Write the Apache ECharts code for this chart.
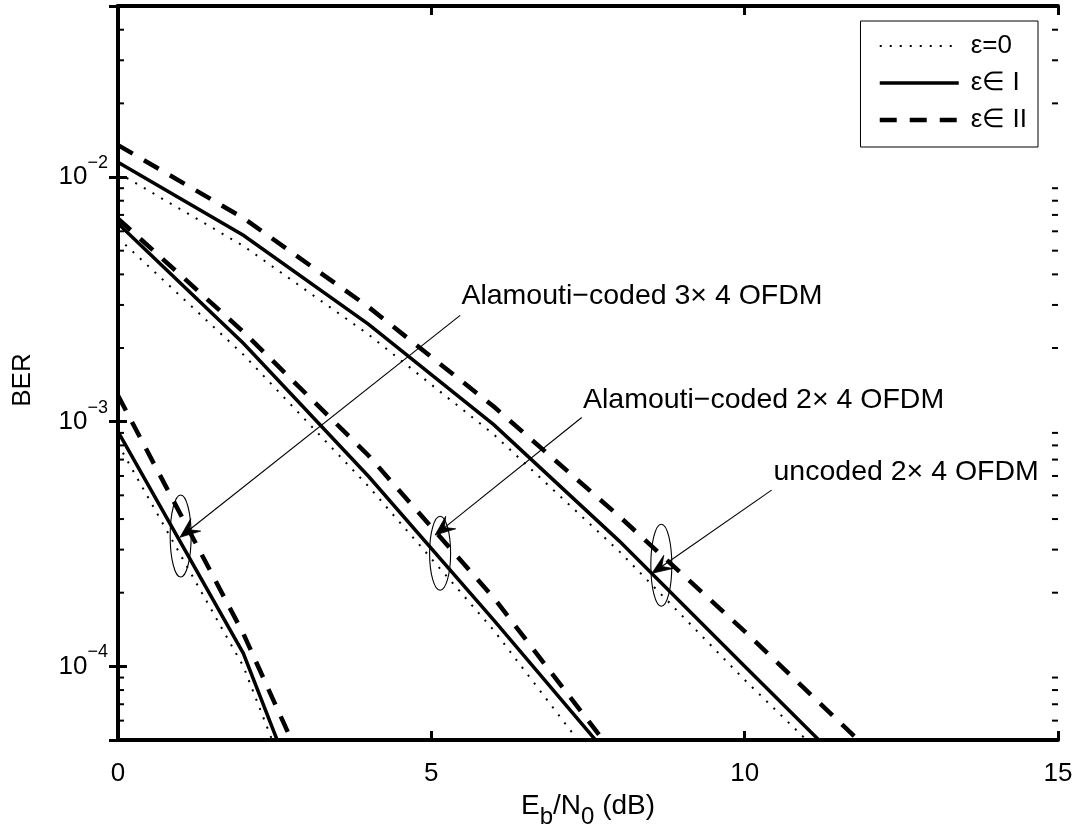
<!DOCTYPE html>
<html><head><meta charset="utf-8">
<script src="https://cdn.jsdelivr.net/npm/echarts@6/dist/echarts.min.js"></script>
<style>html,body{margin:0;padding:0;background:#fff}#c{width:1076px;height:835px}</style>
</head><body><div id="c"></div>
<script>
// ---------------- data ----------------
const xTickValues = [0, 5, 10, 15];
const yMinorTicks = [6e-5, 7e-5, 8e-5, 9e-5,
  2e-4, 3e-4, 4e-4, 5e-4, 6e-4, 7e-4, 8e-4, 9e-4,
  2e-3, 3e-3, 4e-3, 5e-3, 6e-3, 7e-3, 8e-3, 9e-3,
  2e-2, 3e-2, 4e-2];
const legendNames = ['ε=0', 'ε∈ I', 'ε∈ II'];

// uncoded 2x4 OFDM
const snrUncoded = [0, 2, 4, 6, 8, 10, 12];
const berUncodedEps0  = [1.04e-2, 5.23e-3, 2.27e-3, 8.85e-4, 2.95e-4, 8.8e-5, 2.8e-5];
const berUncodedEpsI  = [1.15e-2, 5.78e-3, 2.50e-3, 9.7e-4, 3.25e-4, 1.0e-4, 3.1e-5];
const berUncodedEpsII = [1.35e-2, 6.8e-3, 2.94e-3, 1.15e-3, 4.1e-4, 1.39e-4, 4.5e-5];

// Alamouti-coded 2x4 OFDM
const snrAla2 = [0, 2, 4, 6, 8];
const berAla2Eps0  = [5.64e-3, 1.88e-3, 5.43e-4, 1.40e-4, 3.0e-5];
const berAla2EpsI  = [6.45e-3, 2.09e-3, 5.97e-4, 1.54e-4, 3.84e-5];
const berAla2EpsII = [6.76e-3, 2.33e-3, 7.26e-4, 1.90e-4, 4.1e-5];

// Alamouti-coded 3x4 OFDM
const snrAla3 = [0, 2, 4];
const berAla3Eps0  = [8.1e-4, 1.0e-4, 4.9e-6];
const berAla3EpsI  = [9.1e-4, 1.13e-4, 5.5e-6];
const berAla3EpsII = [1.28e-3, 1.36e-4, 1.0e-5];

// annotations (data coordinates)
const annoTexts = ['Alamouti−coded 3× 4 OFDM', 'Alamouti−coded 2× 4 OFDM', 'uncoded 2× 4 OFDM'];
const annoTextPos   = [[5.48, 3.25e-3], [7.42, 1.22e-3], [10.46, 6.22e-4]];
const annoLineStart = [[5.46, 2.72e-3], [7.40, 1.04e-3], [10.43, 5.25e-4]];
const annoArrowTip  = [[0.99, 3.37e-4], [5.06, 3.44e-4], [8.52, 2.40e-4]];
const annoEllipse   = [[1.00, 3.41e-4], [5.14, 2.90e-4], [8.67, 2.59e-4]];

// ---------------- rendering ----------------
const FONT = 'Liberation Sans, Arial, Helvetica, sans-serif';
const ellipseRy = [41, 37, 41];
const ellipseRx = 10.5;

const lineStyles = {
  'ε=0':   { type: [2, 8], width: 2 },
  'ε∈ I':  { type: 'solid', width: 3.5 },
  'ε∈ II': { type: [17, 13], width: 4.5 }
};
function mk(name, xs, ys) {
  const ls = lineStyles[name];
  return {
    type: 'line', name: name, xAxisIndex: 0, yAxisIndex: 0,
    data: xs.map((x, i) => [x, ys[i]]),
    symbol: 'none', clip: true, z: 3,
    itemStyle: { color: '#000' },
    lineStyle: { color: '#000', width: ls.width, type: ls.type, cap: 'butt', join: 'miter' }
  };
}

const series = [
  mk('ε=0', snrUncoded, berUncodedEps0),
  mk('ε∈ I', snrUncoded, berUncodedEpsI),
  mk('ε∈ II', snrUncoded, berUncodedEpsII),
  mk('ε=0', snrAla2, berAla2Eps0),
  mk('ε∈ I', snrAla2, berAla2EpsI),
  mk('ε∈ II', snrAla2, berAla2EpsII),
  mk('ε=0', snrAla3, berAla3Eps0),
  mk('ε∈ I', snrAla3, berAla3EpsI),
  mk('ε∈ II', snrAla3, berAla3EpsII),
  {
    type: 'custom', name: 'minorTicks', silent: true, z: 5,
    data: yMinorTicks.map(v => [0, v]),
    renderItem: function (params, api) {
      const p = api.coord([api.value(0), api.value(1)]);
      const cs = params.coordSys;
      const L = cs.x, R = cs.x + cs.width;
      return { type: 'group', children: [
        { type: 'line', shape: { x1: L, y1: p[1], x2: L + 6, y2: p[1] }, style: { stroke: '#000', lineWidth: 2 } },
        { type: 'line', shape: { x1: R - 6, y1: p[1], x2: R, y2: p[1] }, style: { stroke: '#000', lineWidth: 2 } }
      ]};
    }
  },
  {
    type: 'custom', name: 'annotations', silent: true, z: 6,
    data: annoArrowTip,
    renderItem: function (params, api) {
      const i = params.dataIndex;
      const tip = api.coord(annoArrowTip[i]);
      const st = api.coord(annoLineStart[i]);
      const el = api.coord(annoEllipse[i]);
      const tx = api.coord(annoTextPos[i]);
      let dx = tip[0] - st[0], dy = tip[1] - st[1];
      const len = Math.sqrt(dx * dx + dy * dy);
      dx /= len; dy /= len;
      const nx = -dy, ny = dx;
      const AL = 20, AW = 8, NOTCH = 12;
      const back = [tip[0] - AL * dx, tip[1] - AL * dy];
      const notch = [tip[0] - NOTCH * dx, tip[1] - NOTCH * dy];
      return { type: 'group', children: [
        { type: 'ellipse', shape: { cx: el[0], cy: el[1], rx: ellipseRx, ry: ellipseRy[i] },
          style: { fill: null, stroke: '#000', lineWidth: 1.1 } },
        { type: 'line', shape: { x1: st[0], y1: st[1], x2: notch[0], y2: notch[1] },
          style: { stroke: '#000', lineWidth: 1.1 } },
        { type: 'polygon', shape: { points: [
            tip, [back[0] + AW * nx, back[1] + AW * ny], notch, [back[0] - AW * nx, back[1] - AW * ny]] },
          style: { fill: '#000', stroke: '#000', lineWidth: 0.8 } },
        { type: 'text', x: tx[0], y: tx[1],
          style: { text: annoTexts[i], fontSize: 28.5, fontFamily: FONT, fill: '#000', align: 'left', verticalAlign: 'middle' } }
      ]};
    }
  }
];

const chart = echarts.init(document.getElementById('c'), null, { renderer: 'canvas' });
const axisLineStyle = { color: '#000', width: 4 };
chart.setOption({
  animation: false,
  backgroundColor: '#fff',
  grid: { left: 118, right: 18, top: 6, bottom: 95, containLabel: false },
  legend: {
    data: legendNames,
    orient: 'vertical', right: 38, top: 21,
    itemWidth: 79, itemHeight: 26, itemGap: 11,
    padding: [12, 11, 14, 17],
    borderColor: '#000', borderWidth: 1, backgroundColor: '#fff',
    selectedMode: false,
    itemStyle: { opacity: 0 },
    lineStyle: { width: 'inherit', type: 'inherit' },
    textStyle: { fontSize: 26, fontFamily: FONT, color: '#000', padding: [0, 0, 0, 7] },
    z: 10
  },
  xAxis: [
    {
      type: 'value', position: 'bottom', min: xTickValues[0], max: xTickValues[xTickValues.length - 1], interval: 5,
      name: '{m|E}{s|b}{m|/N}{s|0}{m| (dB)}', nameLocation: 'middle', nameGap: 38,
      nameTextStyle: { fontSize: 28, fontFamily: FONT, color: '#000',
        rich: { m: { fontSize: 28, fontFamily: FONT, color: '#000' },
                s: { fontSize: 24, fontFamily: FONT, color: '#000', padding: [22, 0, 0, 0] } } },
      axisLine: { show: true, lineStyle: axisLineStyle },
      axisTick: { show: true, inside: true, length: 9, lineStyle: { color: '#000', width: 3 } },
      axisLabel: { show: true, fontSize: 26, fontFamily: FONT, color: '#000', margin: 21 },
      splitLine: { show: false }
    },
    {
      type: 'value', position: 'top', min: xTickValues[0], max: xTickValues[xTickValues.length - 1], interval: 5,
      axisLine: { show: true, lineStyle: axisLineStyle },
      axisTick: { show: true, inside: true, length: 9, lineStyle: { color: '#000', width: 3 } },
      axisLabel: { show: false }, splitLine: { show: false }
    }
  ],
  yAxis: [
    {
      type: 'log', logBase: 10, position: 'left', min: 5e-5, max: 5e-2,
      name: 'BER', nameLocation: 'middle', nameGap: 82, nameRotate: 90,
      nameTextStyle: { fontSize: 26, fontFamily: FONT, color: '#000', padding: [0, 14, 0, 0] },
      axisLine: { show: true, lineStyle: axisLineStyle },
      axisTick: { show: true, inside: true, length: 9, lineStyle: { color: '#000', width: 3 } },
      axisLabel: {
        show: true, margin: 10, fontFamily: FONT, color: '#000',
        formatter: function (v) {
          const e = Math.log10(v), r = Math.round(e);
          if (Math.abs(e - r) > 1e-6) return '';
          return '{b|10}{s|' + (r < 0 ? '−' : '') + Math.abs(r) + '}';
        },
        rich: {
          b: { fontSize: 26, fontFamily: FONT, color: '#000' },
          s: { fontSize: 18, fontFamily: FONT, color: '#000', padding: [0, 0, 28, 0] }
        }
      },
      splitLine: { show: false }, minorSplitLine: { show: false }
    },
    {
      type: 'log', logBase: 10, position: 'right', min: 5e-5, max: 5e-2,
      axisLine: { show: true, lineStyle: axisLineStyle },
      axisTick: { show: true, inside: true, length: 9, lineStyle: { color: '#000', width: 3 } },
      axisLabel: { show: false }, splitLine: { show: false }
    }
  ],
  series: series
});
</script>
</body></html>
